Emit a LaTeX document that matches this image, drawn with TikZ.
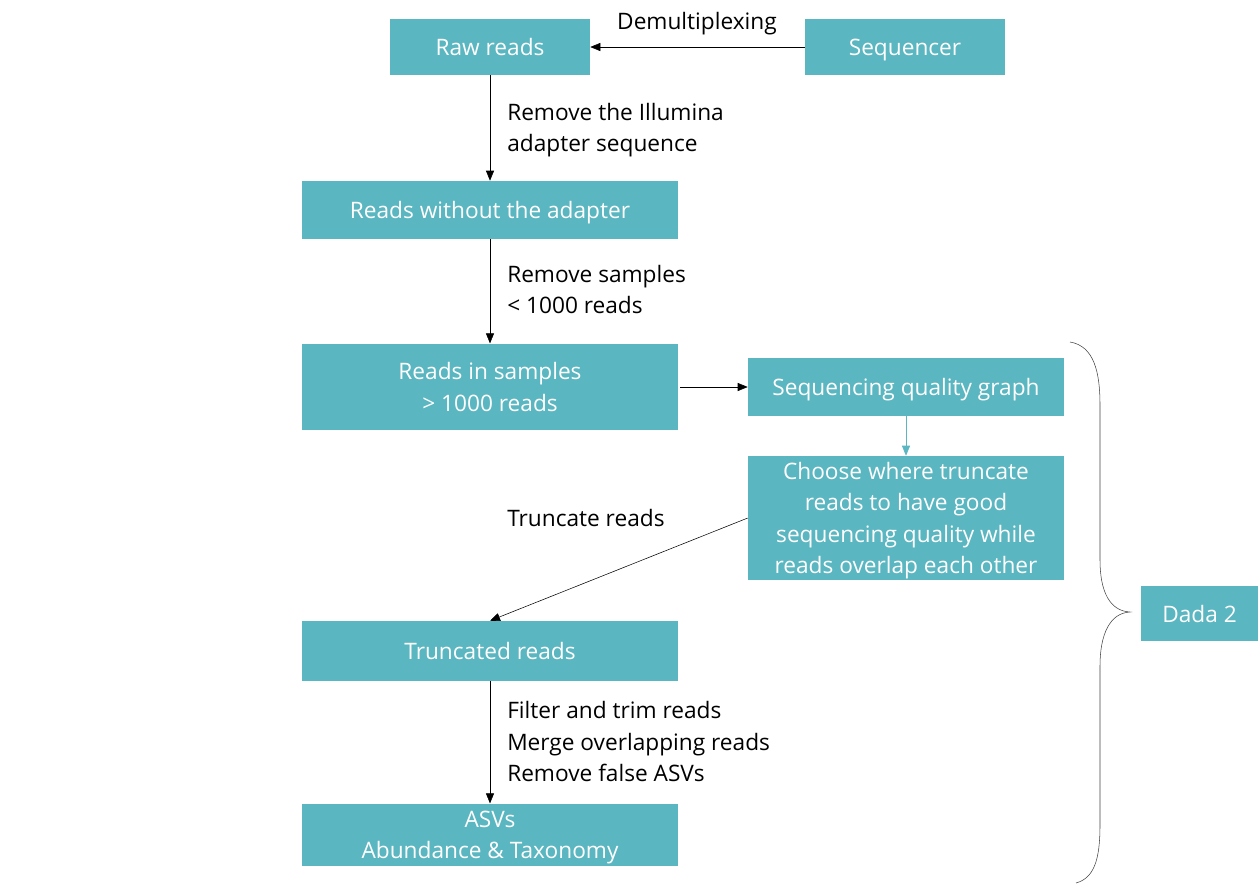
\documentclass[tikz,border=0pt]{standalone}
\usepackage{fontspec}
\setmainfont{Open Sans}
\usetikzlibrary{arrows.meta}
\definecolor{boxteal}{HTML}{5AB6C0}
\begin{document}
\begin{tikzpicture}[x=0.75pt,y=-0.75pt,
	stepbox/.style={fill=boxteal,text=white,align=center,inner sep=0pt,text depth=0pt,
		font=\fontsize{17}{23.5}\selectfont},
	lbl/.style={align=left,anchor=west,inner sep=0pt,text depth=0pt,
		font=\fontsize{17}{23.5}\selectfont},
	arr/.style={-{Triangle[length=7.5pt,width=6pt]},thin}]
	\useasboundingbox (0,0) rectangle (1258,883);
	
	%boxes
	\node (raw) at (490, 47) [stepbox,minimum width=150pt,minimum height=42pt]{Raw reads};
	\node (seq) at (905, 47) [stepbox,minimum width=150pt,minimum height=42pt]{Sequencer};
	\node (noadapt) at (490, 210) [stepbox,minimum width=282pt,minimum height=43.5pt]{Reads without the adapter};
	\node (samples) at (490, 387) [stepbox,minimum width=282pt,minimum height=65pt]{Reads in samples\\> 1000 reads};
	\node (qual) at (906, 387) [stepbox,minimum width=237pt,minimum height=43pt]{Sequencing quality graph};
	\node (choose) at (906, 518) [stepbox,minimum width=237pt,minimum height=93pt]{Choose where truncate\\reads to have good\\sequencing quality while\\reads overlap each other};
	\node (trunc) at (490, 651) [stepbox,minimum width=282pt,minimum height=45pt]{Truncated reads};
	\node (asv) at (490, 835) [stepbox,minimum width=282pt,minimum height=47pt]{ASVs\\Abundance \& Taxonomy};
	\node (dada) at (1199.5, 613.5) [stepbox,minimum width=88pt,minimum height=41pt]{Dada 2};
	
	%arrows
	\draw[arr] (seq) -- (raw);
	\draw[arr] (raw) -- (noadapt);
	\draw[arr] (noadapt) -- (samples);
	\draw[arr] (samples.east) ++(2,0) coordinate (sampout) -- (qual);
	\draw[arr,boxteal] (qual) -- (choose);
	\draw[arr] (choose.west) -- (trunc.north);
	\draw[arr] (trunc) -- (asv);
	
	%labels
	\node (demux) at (697, 21) [lbl,anchor=center]{Demultiplexing};
	\node (lbadapt) at (507, 127.5) [lbl]{Remove the Illumina\\adapter sequence};
	\node (lbsamp) at (507, 289.5) [lbl]{Remove samples\\< 1000 reads};
	\node (lbtrunc) at (507, 518) [lbl]{Truncate reads};
	\node (lbfilter) at (507, 741.5) [lbl]{Filter and trim reads\\Merge overlapping reads\\Remove false ASVs};
	
	%brace
	\draw[thin,black!75] (1070,342) .. controls (1094,346) and (1100,372) .. (1100,405)
		-- (1100,560) .. controls (1100,592) and (1110,611) .. (1130,612)
		.. controls (1110,613) and (1100,634) .. (1100,666)
		-- (1100,825) .. controls (1100,860) and (1094,878) .. (1076,883);
\end{tikzpicture}
\end{document}
